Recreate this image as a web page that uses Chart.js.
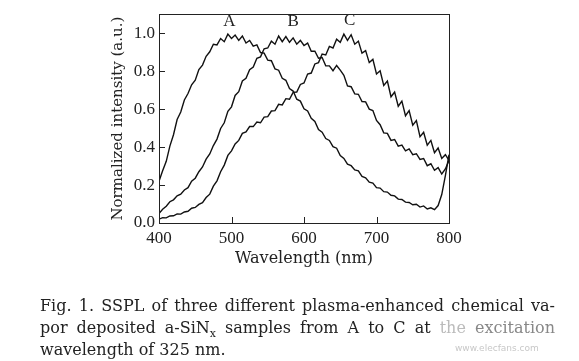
<!DOCTYPE html>
<html>
<head>
<meta charset="utf-8">
<script src="https://cdn.jsdelivr.net/npm/chart.js@4/dist/chart.umd.min.js"></script>
<style>
  html,body{margin:0;padding:0;background:#fff;}
  #wrap{position:relative;width:579px;height:361px;overflow:hidden;}
  #c{position:absolute;left:0;top:0;}
  .cap{position:absolute;left:40px;width:515px;font-family:"DejaVu Serif",serif;font-size:16px;color:#222;line-height:22px;white-space:nowrap;}
  .just{text-align:justify;text-align-last:justify;white-space:normal;}
  .wm{position:absolute;left:455px;top:343px;font-family:"DejaVu Sans",sans-serif;font-size:9px;color:#c8c8c8;}
</style>
</head>
<body>
<div id="wrap">
<canvas id="c" width="579" height="361"></canvas>
<div class="cap just" style="top:295px;">Fig. 1. SSPL of three different plasma-enhanced chemical va-</div>
<div class="cap just" style="top:317px;">por deposited a-SiN<sub style="font-size:11px;line-height:0;">x</sub> samples from A to C at <span style="color:#bbb">the</span> <span style="color:#888">excitation</span></div>
<div class="cap" style="top:339px;">wavelength of 325 nm.</div>
<div class="wm">www.elecfans.com</div>
</div>
<script>
// wavelength grid (nm)
const wavelengths = [400,405,410,415,420,425,430,435,440,445,450,455,460,465,470,475,480,485,490,495,500,505,510,515,520,525,530,535,540,545,550,555,560,565,570,575,580,585,590,595,600,605,610,615,620,625,630,635,640,645,650,655,660,665,670,675,680,685,690,695,700,705,710,715,720,725,730,735,740,745,750,755,760,765,770,775,780,785,790,795,800];
const seriesA = [0.22,0.275,0.325,0.405,0.465,0.545,0.585,0.648,0.682,0.728,0.752,0.808,0.832,0.878,0.902,0.942,0.938,0.972,0.955,0.995,0.972,0.99,0.962,0.985,0.948,0.962,0.932,0.938,0.898,0.895,0.858,0.855,0.812,0.805,0.762,0.752,0.708,0.695,0.652,0.642,0.602,0.59,0.552,0.535,0.492,0.478,0.445,0.435,0.402,0.394,0.355,0.34,0.31,0.302,0.28,0.275,0.245,0.238,0.215,0.21,0.186,0.184,0.165,0.163,0.146,0.143,0.126,0.124,0.11,0.108,0.096,0.099,0.084,0.09,0.074,0.08,0.07,0.092,0.15,0.25,0.36];
const seriesB = [0.05,0.072,0.088,0.112,0.122,0.143,0.152,0.174,0.186,0.22,0.236,0.27,0.295,0.336,0.364,0.408,0.442,0.498,0.528,0.588,0.612,0.672,0.692,0.748,0.762,0.808,0.822,0.868,0.875,0.918,0.922,0.958,0.942,0.985,0.955,0.982,0.952,0.975,0.942,0.962,0.935,0.948,0.905,0.905,0.868,0.872,0.828,0.828,0.802,0.83,0.805,0.778,0.722,0.718,0.68,0.678,0.64,0.638,0.6,0.592,0.54,0.518,0.475,0.472,0.435,0.44,0.405,0.41,0.38,0.39,0.36,0.365,0.335,0.34,0.302,0.312,0.278,0.292,0.258,0.285,0.33];
const seriesC = [0.02,0.028,0.027,0.037,0.038,0.048,0.047,0.058,0.062,0.078,0.082,0.098,0.107,0.134,0.152,0.194,0.222,0.27,0.305,0.356,0.38,0.416,0.435,0.472,0.48,0.508,0.508,0.532,0.528,0.558,0.56,0.59,0.592,0.625,0.622,0.655,0.652,0.688,0.69,0.73,0.738,0.785,0.79,0.838,0.845,0.89,0.885,0.93,0.922,0.968,0.952,0.995,0.962,0.992,0.942,0.958,0.895,0.908,0.845,0.862,0.785,0.802,0.725,0.748,0.665,0.69,0.615,0.642,0.565,0.592,0.515,0.54,0.455,0.478,0.41,0.435,0.37,0.395,0.34,0.36,0.33];
const xTicks = [400,500,600,700,800];
const yTicks = [0.0,0.2,0.4,0.6,0.8,1.0];
const curveLabels = ['A','B','C'];
const curveLabelX = [497,585,663];
const curveLabelY = [1.063,1.063,1.066];

const serif = '"Liberation Serif", serif';
const serif2 = '"DejaVu Serif", serif';
const toPts = s => wavelengths.map((w,i)=>({x:w,y:s[i]}));

const framePlugin = {
  id:'frame',
  afterDraw(chart){
    const ctx = chart.ctx, a = chart.chartArea, xs = chart.scales.x, ys = chart.scales.y;
    ctx.save();
    ctx.strokeStyle = '#222'; ctx.lineWidth = 1;
    ctx.strokeRect(Math.round(a.left)+0.5, Math.round(a.top)+0.5, Math.round(a.right-a.left), Math.round(a.bottom-a.top));
    ctx.beginPath();
    ys.ticks.forEach(t=>{ const p = Math.round(ys.getPixelForValue(t.value))+0.5; ctx.moveTo(a.left, p); ctx.lineTo(a.left+6, p); });
    xs.ticks.forEach(t=>{ const p = Math.round(xs.getPixelForValue(t.value))+0.5; ctx.moveTo(p, a.bottom); ctx.lineTo(p, a.bottom-6); });
    ctx.stroke();
    ctx.fillStyle = '#222'; ctx.font = '17px ' + serif; ctx.textAlign='center'; ctx.textBaseline='middle';
    curveLabels.forEach((l,i)=>{ ctx.fillText(l, xs.getPixelForValue(curveLabelX[i]), ys.getPixelForValue(curveLabelY[i])); });
    ctx.restore();
  }
};

new Chart(document.getElementById('c'), {
  type:'line',
  data:{ datasets:[
    {label:'A', data:toPts(seriesA), borderColor:'#111', borderWidth:1.4, pointRadius:0, tension:0},
    {label:'B', data:toPts(seriesB), borderColor:'#111', borderWidth:1.4, pointRadius:0, tension:0},
    {label:'C', data:toPts(seriesC), borderColor:'#111', borderWidth:1.4, pointRadius:0, tension:0}
  ]},
  options:{
    responsive:false, animation:false, events:[],
    layout:{padding:{left:109, right:130, top:8, bottom:93}},
    plugins:{legend:{display:false}, tooltip:{enabled:false}},
    scales:{
      x:{type:'linear', min:400, max:800,
        afterBuildTicks(s){ s.ticks = xTicks.map(v=>({value:v})); },
        afterFit(s){ s.height = 45; },
        grid:{display:false, drawTicks:false}, border:{display:false},
        ticks:{padding:5, color:'#222', font:{family:serif, size:17}, maxRotation:0, callback:v=>String(v)},
        title:{display:true, text:'Wavelength (nm)', color:'#222', font:{family:serif2, size:16}, padding:{top:0,bottom:0}}
      },
      y:{type:'linear', min:0, max:1.1,
        afterBuildTicks(s){ s.ticks = yTicks.map(v=>({value:v})); },
        afterFit(s){ s.width = 50; },
        grid:{display:false, drawTicks:false}, border:{display:false},
        ticks:{padding:4, color:'#222', font:{family:serif, size:17}, callback:v=>Number(v).toFixed(1)},
        title:{display:true, text:'Normalized intensity (a.u.)', color:'#222', font:{family:serif2, size:15}, padding:{top:0,bottom:0}}
      }
    }
  },
  plugins:[framePlugin]
});
</script>
</body>
</html>
